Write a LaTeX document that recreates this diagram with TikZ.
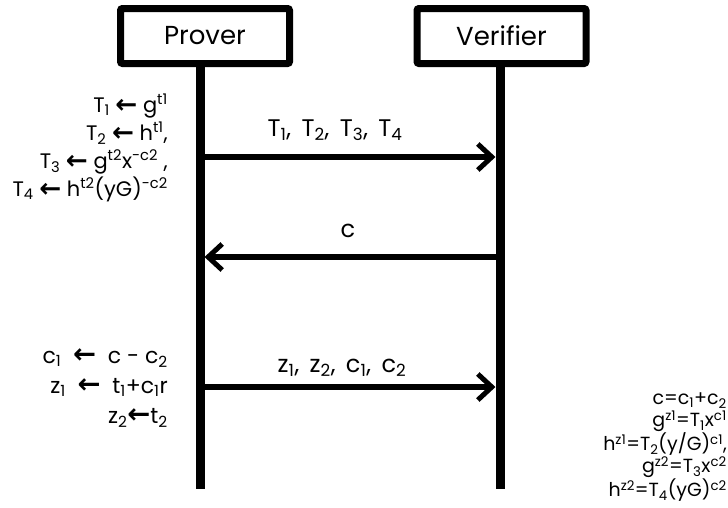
\documentclass[tikz,border=0pt]{standalone}
\usepackage{fontspec}
\setmainfont{Poppins}
\newfontfamily\arrowfont{DejaVu Sans}
\usetikzlibrary{arrows.meta, positioning, calc}
\newcommand{\asgn}{\raisebox{-0.03em}{\scalebox{1.25}{\arrowfont\bfseries\char"2190}}}
\tikzset{
  >={Straight Barb[length=14pt, width=26pt, line width=5pt]},
  actor/.style={draw, line width=7pt, rounded corners=2pt,
    minimum width=169pt, minimum height=55pt, inner sep=0pt,
    font=\fontsize{26}{30}\selectfont},
  lifeline/.style={line width=9pt},
  msg/.style={->, line width=5.5pt, shorten >=4.5pt},
  mlabel/.style={font=\fontsize{24}{28}\selectfont, inner sep=1pt},
  calcbox/.style={align=right, inner sep=0pt,
    font=\fontsize{21}{28}\selectfont},
  checkbox/.style={align=right, inner sep=0pt,
    font=\fontsize{19}{22.3}\selectfont},
}
\begin{document}
\begin{tikzpicture}[x=1pt, y=-1pt]
  \useasboundingbox (0,0) rectangle (728,507);

  % ---- Actors ------------------------------------------------------------
  \node[actor] (prover)   at (205,36)   {Prover};
  \node[actor] (verifier) at (501.5,36) {Verifier};

  \coordinate (pbot) at (200,489);
  \coordinate (vbot) at (500,489);
  \draw[lifeline] (prover.south -| pbot) -- (pbot);
  \draw[lifeline] (verifier.south -| vbot) -- (vbot);

  % ---- Messages ----------------------------------------------------------
  \coordinate (m1p) at (200,157);
  \coordinate (m1v) at (500,157);
  \coordinate (m2p) at (200,257);
  \coordinate (m2v) at (500,257);
  \coordinate (m3p) at (200,387);
  \coordinate (m3v) at (500,387);

  \draw[msg] (m1p) -- (m1v);
  \draw[msg] (m2v) -- (m2p);
  \draw[msg] (m3p) -- (m3v);

  \node[mlabel] (lcommit) at (335,130)
    {T\textsubscript{1},\, T\textsubscript{2},\, T\textsubscript{3},\, T\textsubscript{4}};
  \node[mlabel] (lchal)   at (348,231) {c};
  \node[mlabel] (lresp)   at (342,368)
    {z\textsubscript{1},\, z\textsubscript{2},\, c\textsubscript{1},\, c\textsubscript{2}};

  % ---- Computations ------------------------------------------------------
  \node[calcbox, anchor=east] (pcommit) at (168,148) {%
    T\textsubscript{1} \asgn{} g\textsuperscript{t1}\\
    T\textsubscript{2} \asgn{} h\textsuperscript{t1},\\
    T\textsubscript{3} \asgn{} g\textsuperscript{t2}x\textsuperscript{-c2} ,\\
    T\textsubscript{4} \asgn{} h\textsuperscript{t2}(yG)\textsuperscript{-c2}};

  \node[calcbox, anchor=east, font=\fontsize{22}{30}\selectfont] (presp) at (168,388) {%
    c\textsubscript{1} \ \asgn{} \ c - c\textsubscript{2}\\
    z\textsubscript{1} \ \asgn{} \ t\textsubscript{1}+c\textsubscript{1}r\\
    z\textsubscript{2}\asgn{}t\textsubscript{2}};

  \node[checkbox, anchor=east] (vcheck) at (727,447) {%
    c=c\textsubscript{1}+c\textsubscript{2}\\
    g\textsuperscript{z1}=T\textsubscript{1}x\textsuperscript{c1}\\
    h\textsuperscript{z1}=T\textsubscript{2}(y/G)\textsuperscript{c1},\\
    g\textsuperscript{z2}=T\textsubscript{3}x\textsuperscript{c2}\\
    h\textsuperscript{z2}=T\textsubscript{4}(yG)\textsuperscript{c2}};

\end{tikzpicture}
\end{document}
